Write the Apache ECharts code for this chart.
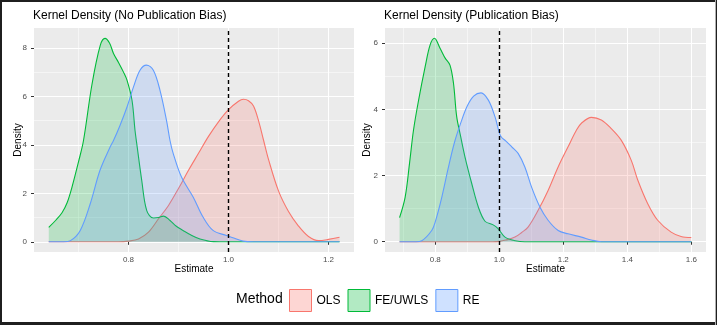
<!DOCTYPE html>
<html>
<head>
<meta charset="utf-8">
<script src="https://cdn.jsdelivr.net/npm/echarts@6/dist/echarts.min.js"></script>
<style>
html,body{margin:0;padding:0;background:#fff;}
#chart{width:717px;height:325px;}
</style>
</head>
<body>
<div id="chart"></div>
<script>
// ---- Data (estimate, density) ----
const methods = ['OLS', 'FE/UWLS', 'RE'];
const panelTitles = ['Kernel Density (No Publication Bias)', 'Kernel Density (Publication Bias)'];

const olsNoBias = [[0.6405,0],[0.78,0],[0.80,0.03],[0.82,0.12],[0.84,0.4],[0.86,0.95],[0.88,1.5],[0.90,2.2],[0.92,2.95],[0.94,3.65],[0.96,4.35],[0.98,4.95],[1.00,5.45],[1.02,5.8],[1.03,5.88],[1.04,5.82],[1.05,5.6],[1.06,5.0],[1.07,4.2],[1.08,3.4],[1.10,2.1],[1.12,1.25],[1.14,0.65],[1.16,0.22],[1.18,0.05],[1.20,0.1],[1.222,0.19]];
const feNoBias = [[0.6405,0.6],[0.655,0.9],[0.667,1.2],[0.677,1.6],[0.687,2.26],[0.70,3.3],[0.71,4.18],[0.727,6.5],[0.7435,8.1],[0.753,8.39],[0.762,8.2],[0.77,7.77],[0.78,7.4],[0.79,7.0],[0.797,6.67],[0.807,5.84],[0.813,4.6],[0.8165,4.05],[0.8265,2.53],[0.8365,1.29],[0.85,0.98],[0.86,1.0],[0.87,1.06],[0.883,0.88],[0.895,0.65],[0.909,0.47],[0.925,0.28],[0.943,0.12],[0.97,0.01],[1.0,0],[1.222,0]];
const reNoBias = [[0.6405,0],[0.67,0],[0.684,0.05],[0.7035,0.47],[0.7235,1.57],[0.743,2.95],[0.763,3.9],[0.77,4.18],[0.783,4.8],[0.797,5.56],[0.81,6.39],[0.823,7.08],[0.836,7.29],[0.8497,7.08],[0.863,6.25],[0.876,5.01],[0.883,4.18],[0.8895,3.64],[0.906,2.67],[0.9295,1.84],[0.949,1.02],[0.969,0.47],[0.996,0.26],[1.009,0.17],[1.029,0.03],[1.05,0],[1.222,0]];

const olsBias = [[0.6885,0],[0.98,0],[1.0,0.01],[1.02,0.05],[1.049,0.14],[1.07,0.28],[1.09,0.44],[1.1215,0.95],[1.1526,1.55],[1.184,2.26],[1.215,2.87],[1.241,3.37],[1.2567,3.58],[1.288,3.76],[1.319,3.68],[1.35,3.42],[1.381,3.07],[1.4125,2.46],[1.433,1.86],[1.464,1.15],[1.495,0.65],[1.537,0.29],[1.568,0.16],[1.6,0.13]];
const feBias = [[0.6885,0.73],[0.706,1.35],[0.72,2.4],[0.732,3.37],[0.748,4.28],[0.7685,5.29],[0.784,5.95],[0.7975,6.15],[0.815,5.85],[0.831,5.55],[0.846,5.34],[0.857,4.79],[0.867,3.78],[0.879,3.2],[0.893,2.56],[0.914,1.76],[0.9346,1.05],[0.9555,0.62],[0.981,0.51],[0.997,0.39],[1.018,0.14],[1.05,0.03],[1.08,0],[1.6,0]];
const reBias = [[0.6885,0],[0.74,0],[0.758,0.03],[0.789,0.34],[0.80,0.6],[0.8206,1.35],[0.84,2.2],[0.86,3.0],[0.88,3.6],[0.90,4.1],[0.92,4.4],[0.943,4.5],[0.966,4.28],[0.9866,3.78],[1.0,3.3],[1.0075,3.15],[1.02,3.05],[1.039,2.87],[1.059,2.67],[1.08,2.26],[1.101,1.65],[1.127,1.05],[1.1526,0.65],[1.184,0.34],[1.215,0.24],[1.2567,0.14],[1.288,0.05],[1.32,0],[1.6,0]];

const referenceLine = 1.0;

// ---- Styling ----
const lineColors = ['#F8766D', '#00BA38', '#619CFF'];
const fillColors = ['rgba(248,118,109,0.3)', 'rgba(0,186,56,0.3)', 'rgba(97,156,255,0.3)'];
const FONT = '"Liberation Sans", Arial, sans-serif';

function majorX(idx, min, max, iv) {
  return {
    type: 'value', gridIndex: idx, min: min, max: max, minInterval: iv, maxInterval: iv, splitNumber: 3,
    name: 'Estimate', nameLocation: 'middle', nameGap: 12, nameMoveOverlap: false,
    nameTextStyle: {fontFamily: FONT, fontSize: 10, color: '#000'},
    axisLine: {show: false},
    axisTick: {show: true, length: 3, lineStyle: {color: '#333', width: 1}},
    axisLabel: {fontFamily: FONT, fontSize: 8, color: '#4D4D4D', margin: 4, showMinLabel: false, showMaxLabel: false,
      formatter: v => v.toFixed(1)},
    splitLine: {show: true, showMinLine: false, showMaxLine: false, lineStyle: {color: '#fff', width: 1.1}}
  };
}
function minorX(idx, min, max, iv) {
  return {
    type: 'value', gridIndex: idx, min: min, max: max, minInterval: iv, maxInterval: iv, splitNumber: 6,
    position: 'bottom', axisLine: {show: false}, axisTick: {show: false}, axisLabel: {show: false},
    splitLine: {show: true, showMinLine: false, showMaxLine: false, lineStyle: {color: '#fff', width: 0.5}}
  };
}
function majorY(idx, min, max, iv) {
  return {
    type: 'value', gridIndex: idx, min: min, max: max, minInterval: iv, maxInterval: iv, splitNumber: 4,
    name: 'Density', nameLocation: 'middle', nameGap: idx === 0 ? 11 : 12.5, nameRotate: 90, nameMoveOverlap: false,
    nameTextStyle: {fontFamily: FONT, fontSize: 10, color: '#000'},
    axisLine: {show: false},
    axisTick: {show: true, length: 3, lineStyle: {color: '#333', width: 1}},
    axisLabel: {fontFamily: FONT, fontSize: 8, color: '#4D4D4D', margin: 7, showMinLabel: false, showMaxLabel: false,
      formatter: v => String(Math.round(v))},
    splitLine: {show: true, showMinLine: false, showMaxLine: false, lineStyle: {color: '#fff', width: 1.1}}
  };
}
function minorY(idx, min, max, iv) {
  return {
    type: 'value', gridIndex: idx, min: min, max: max, minInterval: iv, maxInterval: iv, splitNumber: 8,
    position: 'left', axisLine: {show: false}, axisTick: {show: false}, axisLabel: {show: false},
    splitLine: {show: true, showMinLine: false, showMaxLine: false, lineStyle: {color: '#fff', width: 0.5}}
  };
}

const panels = [
  {data: [olsNoBias, feNoBias, reNoBias]},
  {data: [olsBias, feBias, reBias]}
];

const series = [];
panels.forEach((p, pi) => {
  p.data.forEach((d, mi) => {
    const s = {
      name: methods[mi], type: 'line', xAxisIndex: pi * 2, yAxisIndex: pi * 2,
      data: d, smooth: 0.35, showSymbol: false, symbol: 'none', silent: true,
      lineStyle: {color: lineColors[mi], width: 1.1},
      itemStyle: {color: fillColors[mi], borderColor: lineColors[mi]},
      areaStyle: {color: fillColors[mi], origin: 0},
      z: 2 + mi
    };
    if (mi === 2) {
      s.markLine = {
        silent: true, symbol: 'none', animation: false,
        label: {show: false},
        lineStyle: {color: '#000', type: [4, 3], width: 1.4},
        data: [{xAxis: referenceLine}]
      };
    }
    series.push(s);
  });
});

const chart = echarts.init(document.getElementById('chart'), null, {renderer: 'canvas'});
chart.setOption({
  animation: false,
  backgroundColor: '#fff',
  textStyle: {fontFamily: FONT},
  title: [
    {text: panelTitles[0], left: 28, top: 5, textStyle: {fontFamily: FONT, fontSize: 12, fontWeight: 'normal', color: '#000'}},
    {text: panelTitles[1], left: 379, top: 5, textStyle: {fontFamily: FONT, fontSize: 12, fontWeight: 'normal', color: '#000'}},
    {text: 'Method', left: 231, top: 287, textStyle: {fontFamily: FONT, fontSize: 14, fontWeight: 'normal', color: '#000'}}
  ],
  grid: [
    {left: 34, top: 28, width: 320, height: 224, show: true, backgroundColor: '#EBEBEB', borderWidth: 0},
    {left: 385, top: 28, width: 321, height: 224, show: true, backgroundColor: '#EBEBEB', borderWidth: 0}
  ],
  xAxis: [
    majorX(0, 0.611, 1.251, 0.2), minorX(0, 0.611, 1.251, 0.1),
    majorX(1, 0.643, 1.646, 0.2), minorX(1, 0.643, 1.646, 0.1)
  ],
  yAxis: [
    majorY(0, -0.42, 8.82, 2), minorY(0, -0.42, 8.82, 1),
    majorY(1, -0.31, 6.46, 2), minorY(1, -0.31, 6.46, 1)
  ],
  legend: {
    left: 284, top: 284, orient: 'horizontal',
    itemWidth: 22, itemHeight: 22, itemGap: 7,
    icon: 'rect',
    textStyle: {fontFamily: FONT, fontSize: 12, color: '#000', padding: [0, 0, 0, 0]},
    data: methods.map((m, i) => ({name: m, itemStyle: {color: fillColors[i], borderColor: lineColors[i], borderWidth: 1}}))
  },
  graphic: [
    {type: 'rect', shape: {x: 0, y: 0, width: 717, height: 2}, style: {fill: '#1f1f1f'}, silent: true},
    {type: 'rect', shape: {x: 0, y: 0, width: 2, height: 325}, style: {fill: '#1f1f1f'}, silent: true},
    {type: 'rect', shape: {x: 0, y: 322, width: 717, height: 3}, style: {fill: '#1f1f1f'}, silent: true},
    {type: 'rect', shape: {x: 715, y: 0, width: 1, height: 325}, style: {fill: '#b0b0b0'}, silent: true},
    {type: 'rect', shape: {x: 716, y: 0, width: 1, height: 325}, style: {fill: '#1f1f1f'}, silent: true}
  ],
  series: series
});
</script>
</body>
</html>
